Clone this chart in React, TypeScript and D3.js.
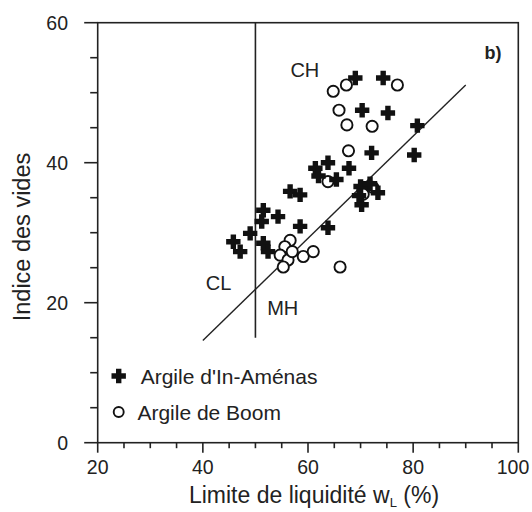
import React from "react";
import * as d3 from "d3";

const inAmenasX = [45.8, 47.1, 49.0, 51.5, 52.4, 51.2, 51.5, 54.3, 58.5, 56.6, 58.5, 63.8, 61.4, 62.0, 63.8, 65.4, 67.8, 70.0, 71.8, 73.3, 70.2, 69.7, 72.1, 80.2, 80.8, 70.3, 75.2, 69.0, 74.3];
const inAmenasY = [28.7, 27.3, 29.9, 28.5, 27.3, 31.6, 33.2, 32.3, 30.9, 35.9, 35.4, 30.7, 39.2, 38.1, 40.0, 37.6, 39.2, 36.6, 37.0, 35.7, 34.0, 35.3, 41.4, 41.1, 45.3, 47.5, 47.1, 52.1, 52.1];
const boomX = [64.8, 67.3, 77.0, 65.9, 67.4, 72.2, 67.7, 63.8, 70.5, 72.3, 56.6, 55.6, 54.7, 56.2, 55.3, 57.0, 59.1, 61.0, 66.1];
const boomY = [50.2, 51.1, 51.1, 47.5, 45.4, 45.2, 41.7, 37.3, 35.5, 36.5, 28.9, 28.0, 26.8, 26.1, 25.1, 27.3, 26.6, 27.3, 25.1];

const xTicks = [20, 40, 60, 80, 100];
const yTicks = [0, 20, 40, 60];
const aLineX = [40, 90];
const vLineX = 50;
const vLineY = [15, 60];
const zoneLabels = [
  { t: "CH", x: 59.4, y: 53.2 },
  { t: "CL", x: 43.0, y: 22.75 },
  { t: "MH", x: 55.2, y: 19.2 },
];
const legendLabels = ["Argile d'In-Aménas", "Argile de Boom"];

const FONT = "'Liberation Sans', Arial, sans-serif";

export default function App() {
  const left = 97.7, right = 518.3, top = 22.7, bottom = 442.7;
  const x = d3.scaleLinear().domain([20, 100]).range([left, right]);
  const y = d3.scaleLinear().domain([0, 60]).range([bottom, top]);
  const aLine = (w: number) => 0.73 * (w - 20);
  const lineGen = d3.line<number>().x((d) => x(d)).y((d) => y(aLine(d)));

  const xMinor = d3.range(20, 100.01, 5);
  const yMinor = d3.range(0, 60.01, 5);

  const cross = (cx: number, cy: number, key: string | number) => {
    const a = 7.2, t = 2.7;
    const p = `M${cx - t},${cy - a}H${cx + t}V${cy - t}H${cx + a}V${cy + t}H${cx + t}V${cy + a}H${cx - t}V${cy + t}H${cx - a}V${cy - t}H${cx - t}Z`;
    return <path key={key} d={p} fill="#111" />;
  };

  return (
    <svg width={532} height={512} style={{ position: "absolute", left: 0, top: 0, background: "#fff" }} fontFamily={FONT}>
      <rect x={0} y={0} width={532} height={512} fill="#fff" />
      <rect x={left} y={top} width={right - left} height={bottom - top} fill="none" stroke="#222" strokeWidth={1.6} />
      {yMinor.map((v) => {
        const major = v % 20 === 0;
        return <line key={"yt" + v} x1={left - (major ? 13.5 : 7.5)} x2={left} y1={y(v)} y2={y(v)} stroke="#222" strokeWidth={1.6} />;
      })}
      {xMinor.map((v) => {
        const major = v % 20 === 0;
        return <line key={"xt" + v} x1={x(v)} x2={x(v)} y1={bottom} y2={bottom + (major ? 10 : 5.5)} stroke="#222" strokeWidth={1.6} />;
      })}
      {yTicks.map((v) => (
        <text key={"yl" + v} x={68} y={y(v) + 7} textAnchor="end" fontSize={19.5} fill="#222">{v}</text>
      ))}
      {xTicks.map((v) => (
        <text key={"xl" + v} x={v === 100 ? 513 : x(v)} y={474} textAnchor="middle" fontSize={19.5} fill="#222">{v}</text>
      ))}
      <text transform={`translate(30,237) rotate(-90)`} textAnchor="middle" fontSize={23.5} fill="#222">Indice des vides</text>
      <text x={314} y={503} textAnchor="middle" fontSize={23} fill="#222">
        Limite de liquidité w<tspan fontSize={13} dy={4}>L</tspan><tspan dy={-4}> (%)</tspan>
      </text>
      <line x1={x(vLineX)} x2={x(vLineX)} y1={y(vLineY[0])} y2={y(vLineY[1])} stroke="#222" strokeWidth={1.6} />
      <path d={lineGen(aLineX) || ""} fill="none" stroke="#222" strokeWidth={1.4} />
      {zoneLabels.map((l) => (
        <text key={l.t} x={x(l.x)} y={y(l.y) + 7} textAnchor="middle" fontSize={20} fill="#222">{l.t}</text>
      ))}
      <text x={493} y={59} textAnchor="middle" fontSize={18} fontWeight="bold" fill="#222">b)</text>
      {boomX.map((v, i) => (
        <circle key={"b" + i} cx={x(v)} cy={y(boomY[i])} r={5.6} fill="#fff" stroke="#111" strokeWidth={1.9} />
      ))}
      {inAmenasX.map((v, i) => cross(x(v), y(inAmenasY[i]), "c" + i))}
      {cross(118.7, 376, "lc")}
      <text x={140.7} y={383.5} fontSize={21} fill="#222">{legendLabels[0]}</text>
      <circle cx={118.7} cy={412} r={5} fill="#fff" stroke="#111" strokeWidth={1.9} />
      <text x={137.4} y={419.5} fontSize={21} fill="#222">{legendLabels[1]}</text>
    </svg>
  );
}
